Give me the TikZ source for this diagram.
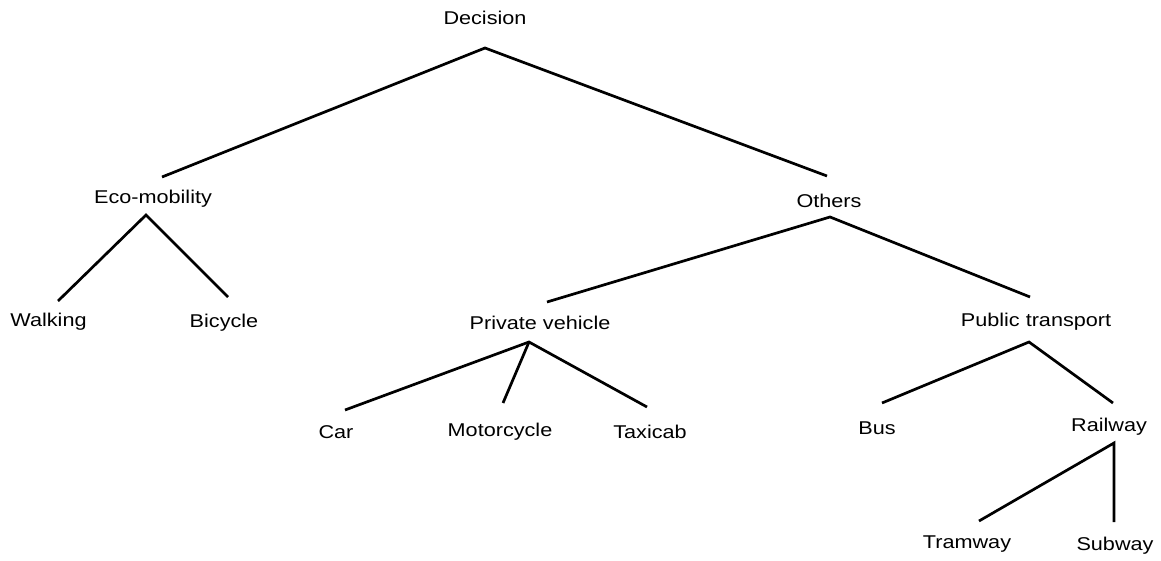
\documentclass[tikz,border=0pt]{standalone}
\usepackage{fontspec}
\setmainfont[FakeStretch=1.17]{Liberation Sans}
\begin{document}
\begin{tikzpicture}[x=1pt,y=-1pt,
  lbl/.style={inner sep=0pt,font=\fontsize{18.5}{20}\selectfont},
  edge/.style={line width=2.7pt,line cap=butt,line join=miter}]
\useasboundingbox (0,0) rectangle (1161,561);
% labels
\node[lbl] (dec) at (485,18) {Decision};
\node[lbl] (eco) at (153,199) {Eco-mobility};
\node[lbl] (oth) at (829,201) {Others};
\node[lbl] (walk) at (48.5,322) {Walking};
\node[lbl] (bic) at (224,323) {Bicycle};
\node[lbl] (priv) at (540,323) {Private vehicle};
\node[lbl] (pub) at (1036,322) {Public transport};
\node[lbl] (car) at (336,432) {Car};
\node[lbl] (moto) at (500,432) {Motorcycle};
\node[lbl] (taxi) at (650,432) {Taxicab};
\node[lbl] (bus) at (877,428) {Bus};
\node[lbl] (rail) at (1109,427) {Railway};
\node[lbl] (tram) at (967,544) {Tramway};
\node[lbl] (sub) at (1115,546) {Subway};
% junction points
\coordinate (dec-a) at (485,48);
\coordinate (eco-a) at (146,215);
\coordinate (oth-a) at (830,217);
\coordinate (priv-a) at (529,342);
\coordinate (pub-a) at (1029,342);
\coordinate (rail-a) at (1114,443);
% line ends above children
\coordinate (eco-t) at (162,177);
\coordinate (oth-t) at (827,176);
\coordinate (walk-t) at (58,301);
\coordinate (bic-t) at (228,297);
\coordinate (priv-t) at (547,302);
\coordinate (pub-t) at (1030,297);
\coordinate (car-t) at (345,410);
\coordinate (moto-t) at (503,403);
\coordinate (taxi-t) at (647,407);
\coordinate (bus-t) at (882,403);
\coordinate (rail-t) at (1113,403);
\coordinate (tram-t) at (979,521);
\coordinate (sub-t) at (1114,522);
% connectors
\draw[edge] (eco-t) -- (dec-a) -- (oth-t);
\draw[edge] (walk-t) -- (eco-a) -- (bic-t);
\draw[edge] (priv-t) -- (oth-a) -- (pub-t);
\draw[edge] (car-t) -- (priv-a) -- (taxi-t);
\draw[edge] (priv-a) -- (moto-t);
\draw[edge] (bus-t) -- (pub-a) -- (rail-t);
\draw[edge] (tram-t) -- (rail-a) -- (sub-t);
\end{tikzpicture}
\end{document}
